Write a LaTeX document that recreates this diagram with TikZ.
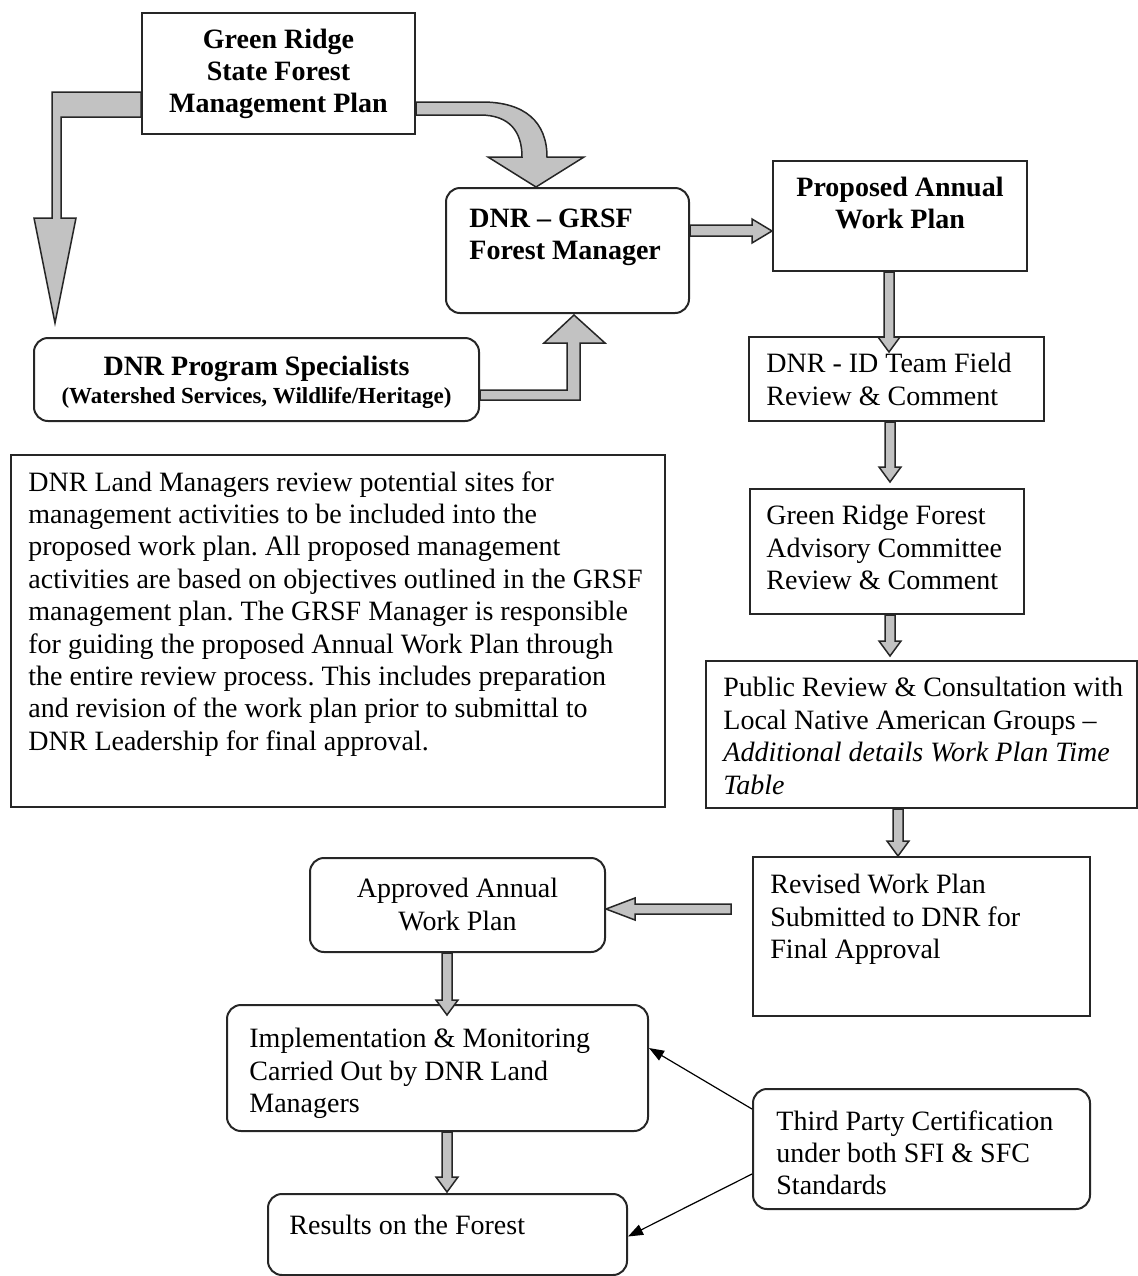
\documentclass[tikz,border=0pt]{standalone}
\usepackage{fontspec}
\setmainfont{Liberation Serif}
\usetikzlibrary{positioning,calc,arrows.meta}
\frenchspacing

\tikzset{
	plainbox/.style={draw=black!85, line width=1pt, anchor=north west, inner sep=0pt},
	roundbox/.style={plainbox, rounded corners=7pt},
	txt/.style={inner sep=0pt, align=left, font=\fontsize{14}{16.2}\selectfont},
	headtxt/.style={inner sep=0pt, align=center, font=\fontsize{14}{15.8}\selectfont\bfseries},
	fatarrow/.style={draw=black!85, fill=black!24, line width=0.75pt, line join=miter},
	thinarrow/.style={draw=black, line width=0.6pt, -{Triangle[length=7.5pt,width=5.5pt]}}
}

% fat block arrow downwards: x, from node, to node, tip below to.north
\newcommand{\fatdown}[4]{%
	\draw[fatarrow] (#1-5,0 |- #2.south) -- ($(#1,0 |- #3.north)+(-5,15-#4)$) -- ++(-6,0) -- ($(#1,0 |- #3.north)+(0,-#4)$) -- ++(11,15) -- ++(-6,0) -- (#1+5,0 |- #2.south) -- cycle;}

\begin{document}
\begin{tikzpicture}[x=0.5pt, y=0.5pt]
	\useasboundingbox (0,0) rectangle (1138,-1276);

	\node[plainbox, minimum width=136.5pt, minimum height=60.5pt] (plan) at (141,-12) {};
	\node[headtxt, below=8.5pt of plan.north] (plantxt) {Green Ridge\\State Forest\\Management Plan};

	\node[roundbox, minimum width=121.5pt, minimum height=62.5pt] (mgr) at (445,-187) {};
	\node[headtxt, align=left, below right=11pt and 12pt of mgr.north west] (mgrtxt) {DNR -- GRSF\\Forest Manager};

	\node[plainbox, minimum width=127pt, minimum height=55pt] (proposed) at (772,-160) {};
	\node[headtxt, below=8.5pt of proposed.north] (proposedtxt) {Proposed Annual\\Work Plan};

	\node[roundbox, minimum width=222.5pt, minimum height=41.5pt] (spec) at (33,-337) {};
	\node[headtxt, below=9.5pt of spec.north] (spectxt) {DNR Program Specialists\\[-2pt]{\fontsize{11.5}{14}\selectfont (Watershed Services, Wildlife/Heritage)}};

	\node[plainbox, minimum width=327pt, minimum height=176pt] (notes) at (10,-454) {};
	\node[txt, below right=8.5pt and 9pt of notes.north west] (notestxt) {DNR Land Managers review potential sites for\\management activities to be included into the\\proposed work plan. All proposed management\\activities are based on objectives outlined in the GRSF\\management plan. The GRSF Manager is responsible\\for guiding the proposed Annual Work Plan through\\the entire review process. This includes preparation\\and revision of the work plan prior to submittal to\\DNR Leadership for final approval.};

	\node[plainbox, minimum width=147.5pt, minimum height=42pt] (idteam) at (748,-336) {};
	\node[txt, below right=8.5pt and 9pt of idteam.north west] (idteamtxt) {DNR - ID Team Field\\Review \& Comment};

	\node[plainbox, minimum width=137pt, minimum height=62.5pt] (advisory) at (749,-488) {};
	\node[txt, below right=8.5pt and 8.5pt of advisory.north west] (advisorytxt) {Green Ridge Forest\\Advisory Committee\\Review \& Comment};

	\node[plainbox, minimum width=215.5pt, minimum height=73.5pt] (public) at (705,-660) {};
	\node[txt, below right=8.5pt and 9pt of public.north west] (publictxt) {Public Review \& Consultation with\\Local Native American Groups --\\\textit{Additional details Work Plan Time}\\\textit{Table}};

	\node[plainbox, minimum width=168.5pt, minimum height=79.5pt] (revised) at (752,-856) {};
	\node[txt, below right=9pt and 9pt of revised.north west] (revisedtxt) {Revised Work Plan\\Submitted to DNR for\\Final Approval};

	\node[roundbox, minimum width=147.5pt, minimum height=47pt] (approved) at (309,-857) {};
	\node[txt, align=center, below=10.5pt of approved.north] (approvedtxt) {Approved Annual\\Work Plan};

	\node[roundbox, minimum width=210.5pt, minimum height=63pt] (impl) at (226,-1004) {};
	\node[txt, below right=12pt and 11.5pt of impl.north west] (impltxt) {Implementation \& Monitoring\\Carried Out by DNR Land\\Managers};

	\node[roundbox, minimum width=179.5pt, minimum height=40.5pt] (results) at (267,-1193) {};
	\node[txt, below right=11pt and 11pt of results.north west] (resultstxt) {Results on the Forest};

	\node[roundbox, minimum width=168.5pt, minimum height=60pt] (third) at (752,-1088) {};
	\node[txt, below right=11pt and 12pt of third.north west] (thirdtxt) {Third Party Certification\\under both SFI \& SFC\\Standards};

	\draw[fatarrow] (plan.west |- 0,-92) -- (52,-92) -- (52,-218) -- (34,-218) -- (55,-323) -- (76,-218) -- (61,-218) -- (61,-117) -- (plan.west |- 0,-117) -- cycle;
	\draw[fatarrow] (plan.east |- 0,-102) -- (482,-102) .. controls (525,-102) and (547,-122) .. (547,-157) -- (584,-157) -- (536,0 |- mgr.north) -- (488,-157) -- (522,-157) .. controls (522,-132) and (510,-115) .. (480,-115) -- (plan.east |- 0,-115) -- cycle;
	\draw[fatarrow] (spec.east |- 0,-390) -- (567,-390) -- (567,-343) -- (544,-343) -- (574,-315) -- (605,-343) -- (580,-343) -- (580,-400) -- (spec.east |- 0,-400) -- cycle;
	\draw[fatarrow] (mgr.east |- 0,-225) -- (752,-225) -- (752,-219) -- (proposed.west |- 0,-231) -- (752,-243) -- (752,-236) -- (mgr.east |- 0,-236) -- cycle;

	\fatdown{889}{proposed}{idteam}{16}
	\fatdown{890}{idteam}{advisory}{-6}
	\fatdown{890}{advisory}{public}{-4}
	\fatdown{898}{public}{revised}{0}
	\fatdown{447}{approved}{impl}{11}
	\fatdown{447}{impl}{results}{-1}

	\draw[fatarrow] (731,-904) -- (635,-904) -- (635,-898) -- (approved.east |- 0,-909) -- (635,-920) -- (635,-914) -- (731,-914) -- cycle;

	\draw[thinarrow] ([yshift=20pt]third.west) -- ([yshift=10pt]impl.east);
	\draw[thinarrow] ([yshift=-12.5pt]third.west) -- ([yshift=-1pt]results.east);

\end{tikzpicture}
\end{document}
